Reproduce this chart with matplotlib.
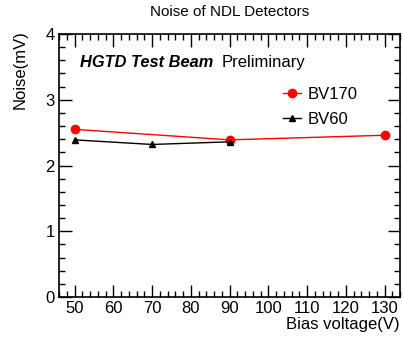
import matplotlib
matplotlib.use("Agg")
import matplotlib.pyplot as plt
from matplotlib.ticker import MultipleLocator
from matplotlib.lines import Line2D

plt.rcParams['font.family'] = ['Liberation Sans', 'DejaVu Sans']

bias_170 = [50, 90, 130]
noise_170 = [2.55, 2.39, 2.46]
bias_60 = [50, 70, 90]
noise_60 = [2.39, 2.32, 2.36]

fig = plt.figure(figsize=(4.03, 3.40), dpi=100)
ax = fig.add_axes([59/403, 1-297/340, (400-59)/403, (297-34)/340])

ax.plot(bias_170, noise_170, color='red', marker='o', markersize=6, lw=1)
ax.plot(bias_60, noise_60, color='black', marker='^', markersize=5, lw=1)

ax.set_xlim(46, 134)
ax.set_ylim(0, 4)
ax.xaxis.set_major_locator(MultipleLocator(10))
ax.xaxis.set_minor_locator(MultipleLocator(2))
ax.yaxis.set_major_locator(MultipleLocator(1))
ax.yaxis.set_minor_locator(MultipleLocator(0.2))
ax.tick_params(which='both', direction='in', top=True, right=True, labelsize=12, width=1, pad=3)
ax.tick_params(which='major', length=9)
ax.tick_params(which='minor', length=4.5)
for s in ax.spines.values():
    s.set_linewidth(1.2)

fig.text(229.5/403, 1-12/340, 'Noise of NDL Detectors', ha='center', va='center', fontsize=11)
fig.text(20/403, 1-30/340, 'Noise(mV)', rotation=90, ha='center', va='top', fontsize=12)
fig.text(400/403, 1-324/340, 'Bias voltage(V)', ha='right', va='center', fontsize=12)

ax.text((80-59)/341, 0.89, 'HGTD Test Beam', transform=ax.transAxes, fontsize=11.8,
        fontweight='bold', fontstyle='italic', va='center')
ax.text((222-59)/341, 0.89, 'Preliminary', transform=ax.transAxes, fontsize=12, va='center')

h1 = Line2D([], [], color='red', marker='o', markersize=6, lw=1)
h2 = Line2D([], [], color='black', marker='^', markersize=5, lw=1)
ax.legend([h1, h2], ['BV170', 'BV60'], loc='upper left', bbox_to_anchor=((283-59)/341, (297-87)/263),
          frameon=False, fontsize=12, handlelength=1.05, handletextpad=0.4, labelspacing=0.58,
          borderpad=0, borderaxespad=0)

fig.savefig('out.png', dpi=100)
